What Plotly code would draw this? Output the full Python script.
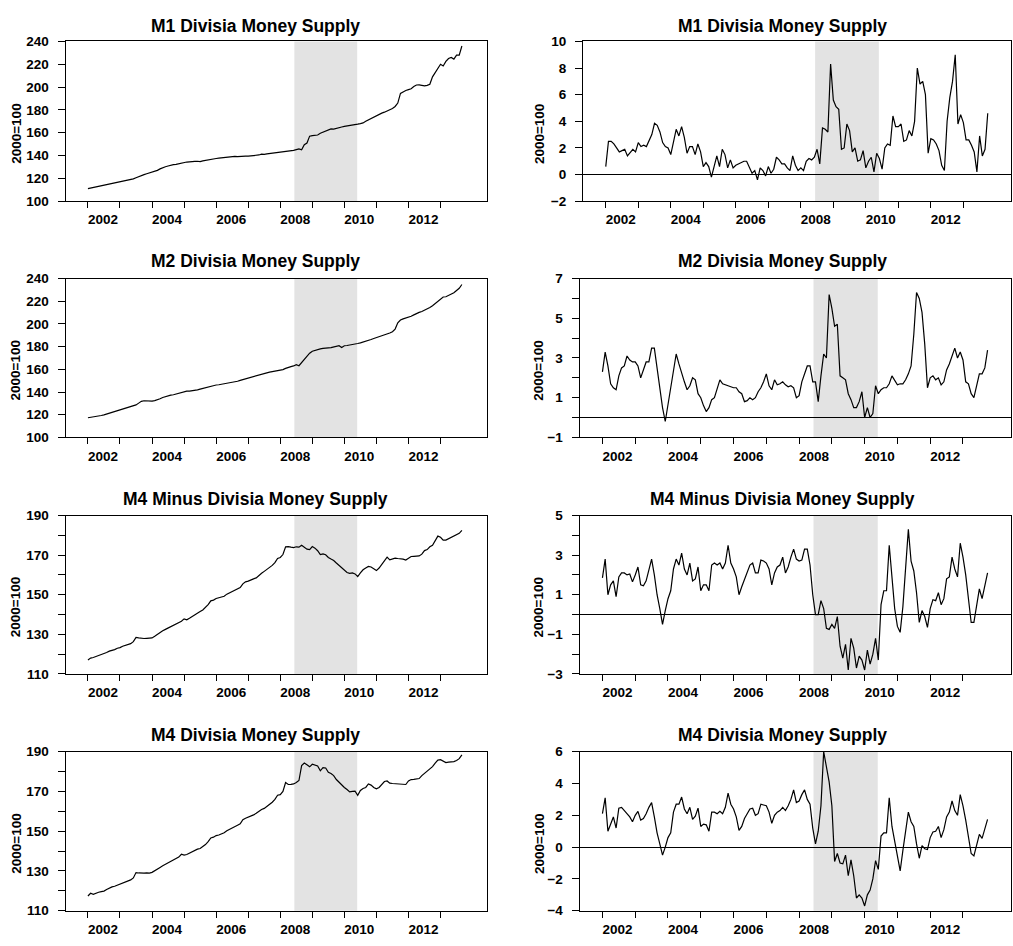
import plotly.graph_objects as go

W, H = 1013, 946

# ---------------- data (monthly, starting Jan 2002) ----------------
start_year = 2002

m1_level = [
    111.0, 111.5, 112.0, 112.5, 113.0, 113.4, 113.8, 114.3, 114.8, 115.2, 115.8, 116.3,
    116.8, 117.3, 117.8, 118.3, 118.8, 119.5, 120.5, 121.6, 122.5, 123.3, 124.0, 124.6,
    125.2, 126.0, 127.0, 128.3, 129.5, 130.2, 130.8, 131.5, 132.0, 132.2, 132.8, 133.6,
    134.0, 134.3, 134.5, 134.4, 134.8, 135.0, 134.7, 135.3, 135.8, 136.4, 136.8, 137.0,
    137.4, 137.7, 138.0, 138.2, 138.5, 138.7, 139.0, 139.2, 139.0, 139.3, 139.5, 139.4,
    139.5, 139.6, 139.8, 140.0, 140.5, 141.2, 141.0, 141.5, 141.8, 142.0, 142.2, 142.3,
    142.5, 142.8, 143.2, 143.6, 144.0, 144.5, 145.2, 145.8, 145.0, 149.5, 151.0, 157.0,
    157.5, 157.8, 158.0, 159.5, 160.5, 161.5, 163.0, 163.3, 163.2, 164.0, 164.5, 165.0,
    165.5, 165.8, 166.2, 166.8, 167.2, 167.5, 168.0, 168.6, 170.0, 171.3, 172.5, 174.0,
    175.3, 176.2, 177.2, 178.0, 179.0, 180.0, 181.2, 183.0, 186.0, 194.5, 196.0, 197.0,
    197.8, 198.5, 200.5, 201.8, 202.0, 201.5, 201.0, 201.5, 202.5, 209.0, 213.0, 216.0,
    220.0, 218.5, 222.5, 225.0, 226.0, 224.5, 228.0, 228.0, 236.0,
]

m1_growth = [
    0.6, 2.5, 2.5, 2.3, 2.0, 1.7, 1.8, 1.9, 1.4, 1.7, 1.9, 1.7,
    2.4, 2.1, 2.2, 2.1, 2.6, 3.0, 3.85, 3.7, 3.2, 2.4, 2.1, 2.0,
    1.5, 2.6, 3.4, 2.9, 3.6, 2.8, 1.6, 2.1, 2.1, 1.5, 2.3, 1.7,
    0.6, 0.9, 0.6, -0.2, 0.7, 1.4, 0.6, 1.9, 1.5, 0.5, 1.1, 0.5,
    0.7, 0.8, 0.9, 1.0, 1.0, 0.5, 0.1, 0.3, -0.4, 0.5, 0.3, -0.1,
    0.6, 0.1, 0.4, 1.3, 1.1, 0.8, 0.8, 0.5, 0.3, 1.4, 0.7, 0.3,
    0.5, 0.3, 1.0, 1.2, 1.1, 1.3, 1.9, 0.8, 3.5, 3.4, 3.2, 8.3,
    5.6, 5.1, 4.9, 1.9, 2.0, 3.8, 3.3, 1.7, 2.0, 1.0, 1.1, 1.8,
    0.5, 1.0, 1.3, 0.2, 1.6, 1.2, 0.4, 2.0, 2.3, 2.2, 4.4, 3.6,
    3.6, 3.8, 2.5, 2.6, 3.3, 2.9, 4.0, 8.0, 6.8, 7.0, 6.0, 1.6,
    2.7, 2.6, 2.3, 1.8, 0.7, 0.3, 4.0, 5.8, 7.0, 9.0, 3.8, 4.5,
    3.9, 2.6, 2.6, 2.2, 1.7, 0.2, 2.9, 1.4, 1.9, 4.6,
]

m2_level = [
    117.3, 117.6, 117.9, 118.3, 118.8, 119.3, 119.9, 120.6, 121.3, 122.0, 122.8, 123.5,
    124.2, 124.9, 125.5, 126.1, 126.7, 127.5, 128.6, 130.2, 131.8, 132.3, 132.0, 131.8,
    132.0, 132.4, 133.0, 134.0, 135.2, 136.1, 136.6, 137.2, 137.6, 138.3, 139.0, 139.8,
    140.5, 140.7, 140.8, 141.0, 141.4, 141.9, 142.5, 143.2, 143.8, 144.4, 145.0, 145.6,
    146.2, 146.4, 146.8, 147.1, 147.5, 147.9, 148.2, 148.7, 149.5, 150.3, 151.0, 151.7,
    152.5, 152.8, 153.5, 154.3, 154.9, 155.8, 156.5, 157.0, 157.6, 158.0, 158.4, 158.8,
    159.0, 159.8, 160.8, 161.8, 162.4, 163.0, 164.1, 163.2, 166.0, 168.4, 171.5, 174.2,
    176.0, 176.8, 177.3, 178.0, 178.5, 179.0, 179.0, 179.2, 179.6, 180.3, 180.8, 179.2,
    180.8, 181.0, 181.3, 181.8, 182.3, 182.8, 183.4, 184.0, 184.7, 185.5, 186.3, 187.2,
    188.0, 188.6, 189.3, 190.0, 190.8, 192.0, 193.2, 195.5, 201.0, 203.5, 204.5, 205.2,
    205.7, 206.8, 208.0, 209.4, 210.2, 211.0, 212.0, 213.0, 214.5, 216.0, 217.8, 219.5,
    221.5, 223.8, 224.0, 225.0, 226.5, 227.5, 229.5, 231.5, 234.8,
]

m2_growth = [
    2.3, 3.3, 2.6, 1.7, 1.5, 1.4, 2.1, 2.5, 2.6, 3.1,
    2.9, 2.8, 2.8, 2.6, 2.0, 2.4, 2.8, 2.8, 3.5, 3.5,
    2.5, 1.5, 0.5, -0.2, 0.6, 1.5, 2.2, 3.2, 2.7, 2.2,
    1.8, 1.4, 1.6, 2.0, 1.9, 1.2, 1.0, 0.6, 0.3, 0.5,
    0.9, 1.0, 1.4, 1.9, 1.7, 1.65, 1.6, 1.55, 1.5, 1.5,
    1.3, 1.2, 0.8, 0.85, 1.0, 0.9, 1.0, 1.3, 1.5, 1.8,
    2.2, 1.6, 1.4, 1.9, 1.65, 1.7, 1.8, 1.65, 1.55, 1.6,
    1.5, 1.0, 1.1, 1.8, 2.2, 2.6, 2.6, 1.8, 1.8, 0.8,
    2.1, 3.2, 3.0, 6.2, 5.5, 4.6, 4.7, 2.1, 2.0, 1.9,
    1.2, 0.9, 0.5, 0.5, 0.8, 1.3, 0.0, 0.5, 0.0, 0.2,
    1.6, 1.2, 1.4, 1.5, 1.5, 1.7, 2.1, 1.9, 1.65, 1.7,
    1.7, 1.9, 2.2, 2.6, 4.2, 6.3, 6.0, 5.3, 3.7, 1.5,
    2.0, 2.1, 1.9, 2.0, 1.65, 1.8, 2.4, 2.7, 3.1, 3.5,
    3.0, 3.3, 2.9, 1.8, 1.7, 1.2, 1.0, 1.6, 2.2, 2.2,
    2.5, 3.4,
]

m4minus_level = [
    117.1, 118.0, 118.3, 118.8, 119.2, 119.6, 119.9, 120.8, 121.5, 121.8, 122.3, 123.0,
    123.3, 124.0, 124.5, 124.9, 125.3, 126.3, 128.4, 128.2, 127.9, 127.9, 128.0, 128.0,
    128.2, 129.0, 130.0, 130.9, 131.8, 132.5, 133.2, 133.9, 134.6, 135.2, 135.6, 136.6,
    137.8, 137.3, 138.1, 139.0, 139.8, 141.0, 141.5, 142.3, 143.5, 145.0, 146.9, 147.3,
    148.1, 148.5, 148.8, 149.2, 150.3, 151.0, 151.6, 152.3, 153.0, 153.6, 155.5, 156.5,
    156.9, 157.3, 158.0, 158.5, 159.8, 160.8, 161.8, 162.8, 163.7, 164.8, 166.2, 168.3,
    168.8, 170.3, 174.2, 174.3, 174.0, 173.8, 174.2, 174.0, 175.0, 174.0, 173.0, 172.8,
    174.3, 173.5, 172.2, 170.3, 170.6, 170.2, 168.8, 168.0, 167.3, 166.0, 164.8, 163.5,
    162.6, 161.2, 160.8, 161.0, 160.5, 159.2, 161.0, 162.6, 163.5, 164.3, 164.0, 163.0,
    162.2, 163.5, 165.5, 167.2, 169.0, 167.6, 168.2, 168.5, 168.3, 168.2, 168.0, 167.5,
    168.5, 169.3, 169.4, 169.5, 169.6, 170.5, 172.3, 172.8, 174.2, 175.0, 177.5, 179.6,
    179.0, 177.6, 177.6, 178.3, 178.8, 179.3, 180.0, 181.0, 182.5,
]

m4minus_growth = [
    1.85, 2.8, 1.0, 1.5, 1.7, 0.9, 1.9, 2.1, 2.1, 2.0,
    2.05, 1.65, 2.0, 2.4, 1.5, 1.45, 1.7, 2.2, 2.8, 2.0,
    1.0, 0.3, -0.5, 0.2, 0.8, 1.2, 2.3, 2.8, 2.5, 3.1,
    2.3, 2.0, 2.6, 1.7, 1.8, 2.4, 1.2, 1.5, 1.5, 1.2,
    2.5, 2.6, 2.5, 2.6, 2.3, 2.6, 3.5, 2.6, 2.3, 1.9,
    1.0, 1.4, 1.8, 2.1, 2.5, 2.6, 2.1, 2.1, 2.75, 2.7,
    2.6, 2.3, 1.5, 2.1, 2.4, 2.5, 2.9, 2.1, 2.4, 2.9,
    3.3, 2.8, 2.7, 2.75, 3.3, 3.3, 2.5, 1.0, 0.0, 0.0,
    0.7, 0.3, -0.7, -0.75, -0.5, -0.7, -0.1, -1.6, -2.2, -1.5,
    -2.8, -1.2, -1.7, -2.7, -2.1, -2.3, -2.8, -1.8, -2.5, -2.0,
    -1.2, -2.3, 0.5, 1.2, 1.2, 3.5, 1.8, 0.3, -0.6, -0.9,
    0.4, 2.6, 4.3, 2.7, 2.2, 1.1, -0.4, 0.2, -0.1, -0.65,
    0.3, 0.75, 0.7, 1.1, 0.5, 0.8, 1.8, 1.9, 2.9, 2.3,
    1.9, 3.6, 2.9, 2.0, 0.9, -0.4, -0.4, 0.5, 1.3, 0.8,
    1.5, 2.1,
]

m4_level = [
    117.4, 118.8, 118.3, 118.9, 119.3, 119.6, 119.9, 120.7, 121.4, 122.0, 122.3, 122.8,
    123.4, 124.0, 124.5, 125.0, 125.5, 126.5, 129.2, 129.0, 128.8, 128.9, 129.0, 128.9,
    129.3, 130.0, 131.0, 131.8, 132.6, 133.4, 134.2, 135.0, 135.8, 136.2, 137.0, 138.4,
    138.0, 138.3, 139.0, 139.6, 140.4, 141.0, 141.3, 142.2, 143.3, 144.8, 146.6, 147.0,
    147.8, 148.1, 148.5, 149.2, 150.2, 151.0, 151.6, 152.3, 153.0, 153.7, 155.8, 156.5,
    157.0, 157.3, 158.2, 159.0, 160.0, 160.9, 161.5, 162.5, 163.5, 164.6, 166.0, 168.1,
    168.4, 170.0, 174.5, 173.5, 173.6, 173.8, 174.5, 175.5, 183.0, 184.3, 183.4, 182.4,
    183.7, 183.3, 182.8, 180.4, 182.0, 181.8, 179.6, 179.0, 178.0, 176.0, 174.5, 173.0,
    172.0, 171.0, 169.8, 170.0, 170.2, 168.1, 170.5, 171.5, 172.0, 173.8, 173.2, 172.0,
    171.3, 172.0, 173.5, 175.0, 175.3, 174.2, 174.0, 173.9, 173.8, 173.8, 173.7, 173.5,
    175.3, 176.0, 176.1, 176.2, 176.5, 178.0, 179.2, 180.0, 181.3, 182.5, 184.3, 185.8,
    186.0, 185.3, 184.5, 184.8, 184.9, 185.0, 185.6, 186.5, 188.4,
]

m4_growth = [
    2.1, 3.1, 1.0, 1.5, 1.9, 1.2, 2.45, 2.5, 2.3, 2.1,
    1.9, 1.6, 2.0, 2.25, 1.7, 1.8, 2.1, 2.5, 2.8, 1.9,
    0.9, 0.2, -0.5, 0.0, 0.6, 0.9, 2.2, 2.7, 2.7, 3.15,
    2.4, 2.1, 2.5, 1.75, 1.95, 2.45, 1.3, 1.45, 1.4, 1.0,
    2.2, 2.2, 2.1, 2.25, 2.1, 2.5, 3.4, 2.7, 2.4, 1.9,
    1.05, 1.3, 1.8, 2.1, 2.4, 2.45, 2.0, 2.1, 2.7, 2.65,
    2.6, 2.2, 1.5, 2.0, 2.2, 2.3, 2.5, 2.3, 2.6, 3.0,
    3.6, 2.8, 2.9, 3.3, 3.6, 3.0, 2.7, 1.2, 0.2, 1.0,
    2.6, 6.0, 5.0, 4.1, 2.6, -0.9, -0.4, -1.0, -1.05, -0.5,
    -1.8, -0.8, -1.8, -3.2, -3.0, -3.2, -3.7, -3.0, -2.7, -2.0,
    -0.85, -1.4, 0.7, 0.9, 0.9, 3.1, 1.3, 0.3, -0.6, -1.5,
    -0.2, 1.0, 2.2, 1.6, 1.3, 0.2, -0.7, 0.1, -0.1, -0.15,
    0.6, 0.95, 1.0, 1.3, 0.6, 1.1, 1.9, 2.2, 2.9, 2.3,
    2.0, 3.3, 2.6, 1.7, 0.7, -0.4, -0.55, 0.2, 0.8, 0.55,
    1.2, 1.75,
]

titles = ["M1 Divisia Money Supply", "M2 Divisia Money Supply",
          "M4 Minus Divisia Money Supply", "M4 Divisia Money Supply"]
y_title = "2000=100"

year_ticks = list(range(2002, 2014))
year_labels = [str(y) if y % 2 == 0 else "" for y in year_ticks]

level_ticks_a = [100, 120, 140, 160, 180, 200, 220, 240]
level_ticks_b = [110, 130, 150, 170, 190]
level_minor_b = [120, 140, 160, 180]
g1_ticks = [-2, 0, 2, 4, 6, 8, 10]
g2_ticks = [-1, 1, 3, 5, 7]
g2_minor = [0, 2, 4, 6]
g3_ticks = [-3, -1, 1, 3, 5]
g3_minor = [-2, 0, 2, 4]
g4_ticks = [-4, -2, 0, 2, 4, 6]

shade_start, shade_end = 2008.44, 2010.40
x_range = [2001.30, 2014.45]

# ---------------- layout geometry (pixels) ----------------
row_px = [(35, 197.3), (276, 437.3), (516.7, 677.7), (756.7, 918.3)]
left_px = (65.5, 487)
right_px = [(583, 1010.5), (579.5, 1010.5), (579.5, 1010.5), (579.5, 1010.5)]
title_cy = [19.7, 258.3, 499.5, 739.7]
title_cx = (256, 782)
ytitle_cx = (15.7, 539)

FONT = "Liberation Sans, Arial, Helvetica, sans-serif"


def px_x(p):
    return p / W


def px_y(p):
    return 1 - p / H


panels = [
    # (row, col, series, yrange, major ticks, minor ticks, zero line)
    (0, 0, m1_level, [100, 240], level_ticks_a, None, False),
    (0, 1, m1_growth, [-2, 10], g1_ticks, None, True),
    (1, 0, m2_level, [100, 240], level_ticks_a, None, False),
    (1, 1, m2_growth, [-1, 7], g2_ticks, g2_minor, True),
    (2, 0, m4minus_level, [110, 190], level_ticks_b, level_minor_b, False),
    (2, 1, m4minus_growth, [-3, 5], g3_ticks, g3_minor, True),
    (3, 0, m4_level, [110, 190], level_ticks_b, level_minor_b, False),
    (3, 1, m4_growth, [-4, 6], g4_ticks, None, True),
]

fig = go.Figure()
layout = {}
shapes = []
annotations = []

tickfont = dict(family=FONT, size=13.5, color="black", weight="bold")

for k, (row, col, series, yr, major, minor, zero) in enumerate(panels):
    n = k + 1
    xname = "x" if n == 1 else f"x{n}"
    yname = "y" if n == 1 else f"y{n}"
    xs = [start_year + i / 12 for i in range(len(series))]
    fig.add_trace(go.Scatter(x=xs, y=series, mode="lines",
                             line=dict(color="black", width=1.2),
                             xaxis=xname, yaxis=yname,
                             showlegend=False, hoverinfo="skip"))
    x0p, x1p = left_px if col == 0 else right_px[row]
    ytop, ybot = row_px[row]
    layout["xaxis" if n == 1 else f"xaxis{n}"] = dict(
        domain=[px_x(x0p), px_x(x1p)], range=x_range, anchor=yname,
        tickmode="array", tickvals=year_ticks, ticktext=year_labels,
        ticks="outside", ticklen=6, tickwidth=1, tickcolor="black",
        ticklabelshift=15, tickfont=tickfont,
        showline=True, mirror=True, linecolor="black", linewidth=1,
        showgrid=False, zeroline=False, fixedrange=True,
    )
    yax = dict(
        domain=[px_y(ybot), px_y(ytop)], range=yr, anchor=xname,
        tickmode="array", tickvals=major,
        ticks="outside", ticklen=7, tickwidth=1, tickcolor="black",
        tickfont=tickfont, ticklabelstandoff=6,
        showline=True, mirror=True, linecolor="black", linewidth=1,
        showgrid=False, zeroline=zero, zerolinecolor="black",
        zerolinewidth=1, fixedrange=True,
    )
    if minor is not None:
        yax["minor"] = dict(tickmode="array", tickvals=minor, ticks="outside",
                            ticklen=7, tickwidth=1, tickcolor="black",
                            showgrid=False)
    layout["yaxis" if n == 1 else f"yaxis{n}"] = yax

    # shaded period
    shapes.append(dict(type="rect", xref=xname, yref=f"{yname} domain",
                       x0=shade_start, x1=shade_end, y0=0, y1=1,
                       fillcolor="#e3e3e3", line=dict(width=0), layer="below"))

    # panel title
    annotations.append(dict(text=f"<b>{titles[row]}</b>", xref="paper", yref="paper",
                            x=px_x(title_cx[col]), y=px_y(title_cy[row]),
                            xanchor="center", yanchor="middle", showarrow=False,
                            font=dict(family=FONT, size=17.5, color="black")))
    # y axis title
    annotations.append(dict(text=f"<b>{y_title}</b>", xref="paper", yref="paper",
                            x=px_x(ytitle_cx[col]),
                            y=px_y((ytop + ybot) / 2 + 13),
                            xanchor="center", yanchor="middle", textangle=-90,
                            showarrow=False,
                            font=dict(family=FONT, size=13.5, color="black")))

fig.update_layout(
    width=W, height=H, autosize=False,
    margin=dict(l=0, r=0, t=0, b=0, pad=0),
    paper_bgcolor="white", plot_bgcolor="white",
    font=dict(family=FONT, color="black"),
    shapes=shapes, annotations=annotations,
    showlegend=False,
    **layout,
)

fig.write_html(
    "out.html",
    config={"displayModeBar": False, "responsive": False},
    post_script="document.body.style.margin='0';document.body.style.overflow='hidden';",
)
